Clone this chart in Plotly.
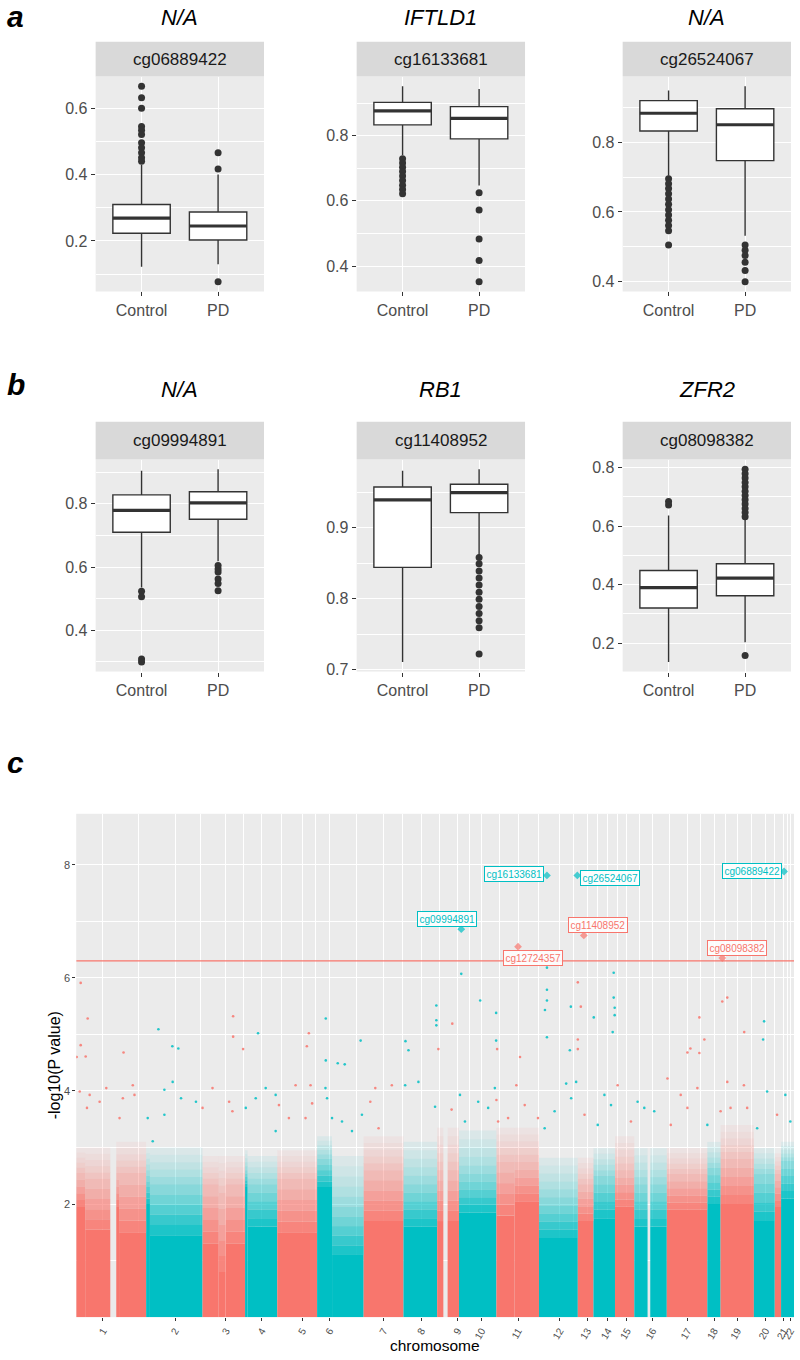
import plotly.graph_objects as go

W, H = 800, 1360
FONT = "Liberation Sans, Arial, sans-serif"
RED = "#F8766D"
TEAL = "#00BFC4"
DARK = "#333333"

# ---------------- Panels a / b : box plots ----------------
probes = ["cg06889422", "cg16133681", "cg26524067", "cg09994891", "cg11408952", "cg08098382"]
genes = ["N/A", "IFTLD1", "N/A", "N/A", "RB1", "ZFR2"]
groups = ["Control", "PD"]

box_q1 = [[0.223, 0.203], [0.833, 0.790], [0.832, 0.747], [0.710, 0.751], [0.844, 0.921], [0.320, 0.362]]
box_med = [[0.269, 0.245], [0.876, 0.853], [0.883, 0.850], [0.779, 0.803], [0.939, 0.949], [0.390, 0.422]]
box_q3 = [[0.310, 0.287], [0.902, 0.889], [0.919, 0.896], [0.828, 0.838], [0.957, 0.961], [0.448, 0.471]]
box_lo = [[0.122, 0.130], [0.740, 0.647], [0.704, 0.532], [0.535, 0.618], [0.711, 0.861], [0.136, 0.203]]
box_hi = [[0.430, 0.400], [0.951, 0.943], [0.948, 0.960], [0.904, 0.909], [0.980, 0.982], [0.636, 0.627]]
box_out = [
    [[0.666, 0.632, 0.600, 0.545, 0.534, 0.521, 0.496, 0.481, 0.466, 0.451, 0.440], [0.466, 0.417, 0.077]],
    [[0.729, 0.716, 0.703, 0.690, 0.676, 0.662, 0.648, 0.635, 0.622], [0.625, 0.572, 0.483, 0.417, 0.352]],
    [[0.695, 0.681, 0.667, 0.652, 0.637, 0.622, 0.606, 0.591, 0.576, 0.561, 0.546, 0.505],
     [0.505, 0.490, 0.475, 0.456, 0.432, 0.400]],
    [[0.523, 0.506, 0.309, 0.300], [0.605, 0.594, 0.584, 0.562, 0.548, 0.525]],
    [[], [0.858, 0.849, 0.839, 0.829, 0.819, 0.809, 0.799, 0.789, 0.779, 0.769, 0.759, 0.722]],
    [[0.684, 0.672], [0.794, 0.779, 0.764, 0.749, 0.734, 0.719, 0.704, 0.690, 0.675, 0.660, 0.646, 0.632, 0.158]],
]
y_step = [0.2, 0.2, 0.2, 0.2, 0.1, 0.2]

# ---------------- Panel c : Manhattan plot ----------------
chroms = [str(i) for i in range(1, 23)]
chrom_start = [0, 70.2, 126.8, 169.5, 201.8, 241.8, 288.5, 328.5, 362.3, 384.2, 421.8,
               464.5, 503.5, 519.2, 540.8, 560.2, 592.8, 633.5, 646.8, 680.2, 701.2, 707.5]
chrom_end = chrom_start[1:] + [720.5]
chrom_ticks = [26.8, 99.2, 150.2, 186.2, 226.8, 254.2, 308.5, 346.2, 382.8, 406.8, 443.5,
               485.2, 512.8, 533.5, 552.8, 578.5, 613.5, 640.2, 663.5, 691.8, 710.2, 716.8]

# density envelope of the dense point cloud (-log10 P): solid / medium / sparse tops
seg_start = [0, 9, 40.2, 43, 70.2, 74, 126.8, 143, 150, 169.5, 172, 201.8, 241.8, 256.8, 288.5,
             328.5, 362.3, 372.8, 384.2, 421.8, 440, 464.5, 503.5, 519.2, 540.8, 560.2, 576.2,
             592.8, 633.5, 646.8, 680.2, 701.2, 707.5]
seg_end = [9, 34.2, 43, 70.2, 74, 126.8, 143, 150, 169.5, 172, 201.8, 241.8, 256.8, 288.5, 328.5,
           362.3, 368.5, 384.2, 421.8, 440, 464.5, 503.5, 519.2, 540.8, 560.2, 573.5, 592.8,
           633.5, 646.8, 680.2, 701.2, 707.5, 720.5]
seg_solid = [1.95, 1.55, 1.95, 1.5, 2.0, 1.45, 1.3, 0.8, 1.3, 2.3, 1.6, 1.5, 2.3, 1.1, 1.7,
             1.6, 1.7, 1.7, 1.85, 1.8, 2.05, 1.4, 1.7, 1.75, 1.95, 1.6, 1.6,
             1.9, 2.0, 2.0, 1.7, 1.95, 2.1]
seg_mid = [2.55, 2.45, 2.55, 2.55, 2.5, 2.35, 2.35, 2.2, 2.35, 2.6, 2.35, 2.45, 2.8, 1.95, 2.6,
           2.35, 2.6, 2.6, 2.53, 2.75, 2.75, 2.12, 2.35, 2.5, 2.6, 2.35, 2.35,
           2.53, 2.64, 2.8, 2.53, 2.53, 2.76]
seg_sparse = [3.0, 3.0, 3.1, 3.1, 3.0, 3.0, 2.85, 2.85, 2.85, 2.95, 2.85, 2.95, 3.2, 2.85, 3.2,
              3.1, 3.35, 3.35, 3.3, 3.35, 3.35, 2.82, 2.82, 2.99, 3.2, 2.99, 2.99,
              2.99, 3.1, 3.4, 2.99, 2.9, 3.1]

# individual points standing out above the dense cloud
pt_x = [4.5, 11.5, 4.5, 9.5, 0.5, 47.5, 82.5, 96.5, 102.5, 157.5, 157.5, 167.5, 182.5, 231.5, 233.5,
        250.5, 250.5, 262.5, 269.5, 285.5,
        386.5, 472.5, 539.5, 503.5, 472.5, 472.5, 470.5, 405.5, 421.5, 361.5, 361.5, 361.5, 377.5,
        496.5, 506.5, 539.5, 540.5, 540.5, 519.5, 538.5, 648.5, 653.5, 625.5, 690.5, 670.5, 689.5,
        630.5, 330.5, 421.5, 422.5, 472.5, 503.5, 503.5, 495.5, 616.5, 613.5, 625.5, 363.5, 333.5, 445.5,
        3.5, 10.8, 13.5, 23.5, 30.2, 43.5, 46.8, 56.8, 58.5, 71.8, 76.8, 88.5, 88.5, 96.8, 105.2,
        120.2, 126.8, 136.8, 153.5, 156.8, 170.2, 180.2, 190.2, 200.2, 200.2, 203.5, 213.5, 220.2,
        230.2, 235.2, 236.8, 250.2, 251.8, 256.8, 266.8, 276.8, 286.8, 295.2, 300.2, 303.5, 316.8,
        330.2, 343.5, 360.2, 376.8, 385.2, 390.2, 403.5, 413.5, 420.2, 421.8, 423.5, 433.5, 441.8,
        450.2, 463.5, 470.2, 480.2, 491.8, 496.8, 501.8, 510.2, 523.5, 530.2, 536.8, 543.5, 556.8,
        563.5, 570.2, 580.2, 593.5, 596.8, 606.8, 613.5, 623.5, 633.5, 646.8, 653.5, 656.8, 670.2,
        673.5, 683.5, 693.5, 703.5, 711.8, 716.8]
pt_y = [5.91, 5.28, 4.81, 4.61, 4.60, 4.68, 5.09, 4.79, 4.75, 5.32, 4.96, 4.74, 5.02, 4.79, 5.02,
        5.28, 4.54, 4.49, 4.47, 4.89,
        6.07, 6.18, 6.09, 5.92, 5.79, 5.60, 5.43, 5.60, 5.38, 5.51, 5.25, 5.16, 5.19,
        5.49, 5.49, 5.65, 5.47, 5.34, 5.30, 5.04, 5.58, 5.65, 5.30, 5.23, 5.04, 4.91,
        4.91, 4.88, 4.89, 4.74, 4.95, 4.91, 4.74, 4.72, 4.75, 4.68, 4.67, 4.74, 4.72, 4.60,
        3.99, 3.70, 3.93, 3.81, 4.05, 3.52, 3.87, 4.10, 3.93, 3.52, 3.11, 3.58, 4.02, 4.16, 3.87,
        3.81, 3.70, 4.05, 3.81, 3.64, 3.70, 3.87, 4.05, 3.93, 3.29, 3.75, 3.52, 4.10,
        3.52, 4.10, 3.78, 4.05, 3.87, 3.52, 3.46, 3.29, 3.58, 3.81, 4.05, 3.34, 4.10,
        4.10, 4.16, 3.72, 3.67, 3.93, 3.46, 3.81, 3.70, 4.05, 3.84, 3.46, 3.52, 4.10,
        3.75, 3.52, 3.34, 3.64, 4.13, 3.87, 4.16, 3.58, 3.40, 3.93, 3.75, 4.10, 3.46,
        3.81, 3.70, 3.64, 4.22, 3.40, 3.93, 3.70, 4.05, 3.40, 3.64, 4.16, 3.70, 4.10,
        3.70, 3.34, 3.99, 3.58, 3.93, 3.46]

# annotated top CpGs
top_ids = ["cg09994891", "cg16133681", "cg26524067", "cg06889422", "cg11408952", "cg12724357", "cg08098382"]
top_x = [386.5, 472.5, 503.0, 710.5, 509.5, 443.5, 648.5]
top_y = [6.86, 7.81, 7.81, 7.88, 6.75, 6.55, 6.35]
threshold = 6.30

# ---------------- layout geometry (pixels) ----------------
cols_px = [(96, 265), (358, 527), (625, 794)]
rows_px = [dict(plot=(77, 293), strip=(42, 77), title=18),
           dict(plot=(462, 675), strip=(424, 462), title=392)]
man_x = (76.5, 797)
man_y = (818, 1324)
label_shift = [(-14, 10), (-33, 1), (33, -3), (-32, 0), (14, 10), (15, -11), (15, 10)]
# visual fade of the dense cloud between envelope levels (opacity bands)
fade_low = [0.88, 0.76, 0.64, 0.52, 0.42]
fade_high = [0.33, 0.25, 0.18, 0.12, 0.07]


def px_x(v):
    return v / W


def px_y(v):
    return 1 - v / H


def chrom_index(x):
    for i, (s, e) in enumerate(zip(chrom_start, chrom_end)):
        if s <= x < e:
            return i
    return len(chrom_start) - 1


def chrom_color(x, alpha=1.0):
    base = RED if chrom_index(x) % 2 == 0 else TEAL
    h = base.lstrip("#")
    r, g, b = int(h[0:2], 16), int(h[2:4], 16), int(h[4:6], 16)
    return f"rgba({r},{g},{b},{alpha})"


fig = go.Figure()
layout = dict(width=W, height=H, margin=dict(l=0, r=0, t=0, b=0), autosize=False,
              paper_bgcolor="white", plot_bgcolor="#EBEBEB", showlegend=False,
              font=dict(family=FONT, color="#4D4D4D"), barmode="overlay",
              shapes=[], annotations=[])

tickfont_box = dict(family=FONT, size=16, color="#4D4D4D")

for i in range(6):
    k = i + 1
    xa = "x" if k == 1 else f"x{k}"
    ya = "y" if k == 1 else f"y{k}"
    r, c = divmod(i, 3)
    x0, x1 = cols_px[c]
    y0, y1 = rows_px[r]["plot"]
    s0, s1 = rows_px[r]["strip"]

    allv = box_lo[i] + box_hi[i] + box_out[i][0] + box_out[i][1]
    vmin, vmax = min(allv), max(allv)
    pad = 0.05 * (vmax - vmin)
    step = y_step[i]

    layout["xaxis" if k == 1 else f"xaxis{k}"] = dict(
        domain=[px_x(x0), px_x(x1)], anchor=ya, range=[0.4, 2.6],
        tickmode="array", tickvals=[1, 2], ticktext=groups,
        showgrid=True, gridcolor="white", gridwidth=1.2, zeroline=False,
        ticks="outside", ticklen=4, tickwidth=1.1, tickcolor=DARK, tickfont=tickfont_box,
        fixedrange=True)
    layout["yaxis" if k == 1 else f"yaxis{k}"] = dict(
        domain=[px_y(y1), px_y(y0)], anchor=xa, range=[vmin - pad, vmax + pad],
        tick0=0, dtick=step, tickformat=".1f",
        showgrid=True, gridcolor="white", gridwidth=1.2, zeroline=False,
        minor=dict(tick0=0, dtick=step / 2, showgrid=True, gridcolor="white", gridwidth=0.6),
        ticks="outside", ticklen=4, tickwidth=1.1, tickcolor=DARK, tickfont=tickfont_box,
        fixedrange=True)

    fig.add_trace(go.Box(
        x=[1, 2], q1=box_q1[i], median=box_med[i], q3=box_q3[i],
        lowerfence=box_lo[i], upperfence=box_hi[i], width=0.75, whiskerwidth=0,
        fillcolor="white", line=dict(color=DARK, width=1.4), boxpoints=False,
        xaxis=xa, yaxis=ya, hoverinfo="skip"))

    # thicker median bar (ggplot style)
    mx, my = [], []
    for g in range(2):
        mx += [g + 1 - 0.375, g + 1 + 0.375, None]
        my += [box_med[i][g], box_med[i][g], None]
    fig.add_trace(go.Scatter(x=mx, y=my, mode="lines", line=dict(color=DARK, width=3.2),
                             xaxis=xa, yaxis=ya, hoverinfo="skip"))

    ox, oy = [], []
    for g in range(2):
        ox += [g + 1] * len(box_out[i][g])
        oy += box_out[i][g]
    fig.add_trace(go.Scatter(x=ox, y=oy, mode="markers",
                             marker=dict(color=DARK, size=7, line=dict(width=0)),
                             xaxis=xa, yaxis=ya, hoverinfo="skip"))

    # facet strip
    layout["shapes"].append(dict(type="rect", xref="paper", yref="paper",
                                 x0=px_x(x0), x1=px_x(x1), y0=px_y(s1), y1=px_y(s0),
                                 fillcolor="#D9D9D9", line=dict(width=0), layer="below"))
    layout["annotations"].append(dict(text=probes[i], xref="paper", yref="paper",
                                      x=px_x((x0 + x1) / 2), y=px_y((s0 + s1) / 2),
                                      showarrow=False, xanchor="center", yanchor="middle",
                                      font=dict(family=FONT, size=17, color="#1A1A1A")))
    layout["annotations"].append(dict(text=f"<i>{genes[i]}</i>", xref="paper", yref="paper",
                                      x=px_x((x0 + x1) / 2), y=px_y(rows_px[r]["title"]),
                                      showarrow=False, xanchor="center", yanchor="middle",
                                      font=dict(family=FONT, size=22, color="black")))

# ---------------- Manhattan ----------------
minor_x = [(a + b) / 2 for a, b in zip(chrom_ticks[:-1], chrom_ticks[1:])]
layout["xaxis7"] = dict(
    domain=[px_x(man_x[0]), px_x(man_x[1])], anchor="y7", range=[0, chrom_end[-1]],
    tickmode="array", tickvals=chrom_ticks, ticktext=chroms, tickangle=-60,
    showgrid=True, gridcolor="white", gridwidth=1.1, zeroline=False,
    minor=dict(tickmode="array", tickvals=minor_x, showgrid=True, gridcolor="white", gridwidth=0.5),
    ticks="outside", ticklen=3, tickwidth=1, tickcolor=DARK,
    tickfont=dict(family=FONT, size=10, color="#4D4D4D"), fixedrange=True)
layout["yaxis7"] = dict(
    domain=[px_y(man_y[1]), px_y(man_y[0])], anchor="x7", range=[0, 8.9],
    tickmode="array", tickvals=[2, 4, 6, 8],
    showgrid=True, gridcolor="white", gridwidth=1.1, zeroline=False,
    minor=dict(tickmode="array", tickvals=[1, 3, 5, 7], showgrid=True, gridcolor="white", gridwidth=0.5),
    ticks="outside", ticklen=3, tickwidth=1, tickcolor=DARK,
    tickfont=dict(family=FONT, size=11, color="#4D4D4D"), fixedrange=True)

seg_x = [(a + b) / 2 for a, b in zip(seg_start, seg_end)]
seg_w = [b - a for a, b in zip(seg_start, seg_end)]


def add_band(lo_list, hi_list, alpha):
    fig.add_trace(go.Bar(
        x=seg_x, width=seg_w, base=lo_list, y=[h - l for h, l in zip(hi_list, lo_list)],
        marker=dict(color=[chrom_color(x, alpha) for x in seg_x], line=dict(width=0)),
        xaxis="x7", yaxis="y7", hoverinfo="skip"))


add_band([0] * len(seg_solid), seg_solid, 1.0)
for lower, upper, alphas in [(seg_solid, seg_mid, fade_low), (seg_mid, seg_sparse, fade_high)]:
    n = len(alphas)
    for j, a in enumerate(alphas):
        lo_b = [l + (u - l) * j / n for l, u in zip(lower, upper)]
        hi_b = [l + (u - l) * (j + 1) / n for l, u in zip(lower, upper)]
        add_band(lo_b, hi_b, a)

fig.add_trace(go.Scatter(
    x=pt_x, y=pt_y, mode="markers",
    marker=dict(size=2.6, color=[chrom_color(x, 0.85) for x in pt_x], line=dict(width=0)),
    xaxis="x7", yaxis="y7", hoverinfo="skip"))

fig.add_trace(go.Scatter(
    x=[0, chrom_end[-1]], y=[threshold, threshold], mode="lines",
    line=dict(color=RED, width=1.3), xaxis="x7", yaxis="y7", hoverinfo="skip"))

fig.add_trace(go.Scatter(
    x=top_x, y=top_y, mode="markers",
    marker=dict(size=6, symbol="diamond", color=[chrom_color(x, 0.7) for x in top_x],
                line=dict(width=0)),
    xaxis="x7", yaxis="y7", hoverinfo="skip"))

for name, x, y, (dx, dy) in zip(top_ids, top_x, top_y, label_shift):
    colr = chrom_color(x, 1.0)
    layout["annotations"].append(dict(
        text=name, x=x, y=y, xref="x7", yref="y7", showarrow=False,
        xshift=dx, yshift=dy, xanchor="center", yanchor="middle",
        bgcolor="rgba(255,255,255,0.85)", bordercolor=colr, borderwidth=1, borderpad=1.5,
        font=dict(family=FONT, size=10, color=colr)))

# axis titles for panel c
layout["annotations"].append(dict(text="-log10(P value)", xref="paper", yref="paper",
                                  x=px_x(55), y=px_y((man_y[0] + man_y[1]) / 2), textangle=-90,
                                  showarrow=False, xanchor="center", yanchor="middle",
                                  font=dict(family=FONT, size=16, color="black")))
layout["annotations"].append(dict(text="chromosome", xref="paper", yref="paper",
                                  x=px_x((man_x[0] + man_x[1]) / 2), y=px_y(1352),
                                  showarrow=False, xanchor="center", yanchor="middle",
                                  font=dict(family=FONT, size=15.5, color="black")))

# panel letters
for letter, yy in zip(["a", "b", "c"], [17, 386, 766]):
    layout["annotations"].append(dict(text=f"<b><i>{letter}</i></b>", xref="paper", yref="paper",
                                      x=px_x(5), y=px_y(yy), showarrow=False,
                                      xanchor="left", yanchor="middle",
                                      font=dict(family=FONT, size=30, color="black")))

fig.update_layout(**layout)
fig.write_html("out.html", config={"displayModeBar": False},
               post_script="document.body.style.margin='0';document.body.style.overflow='hidden';")
